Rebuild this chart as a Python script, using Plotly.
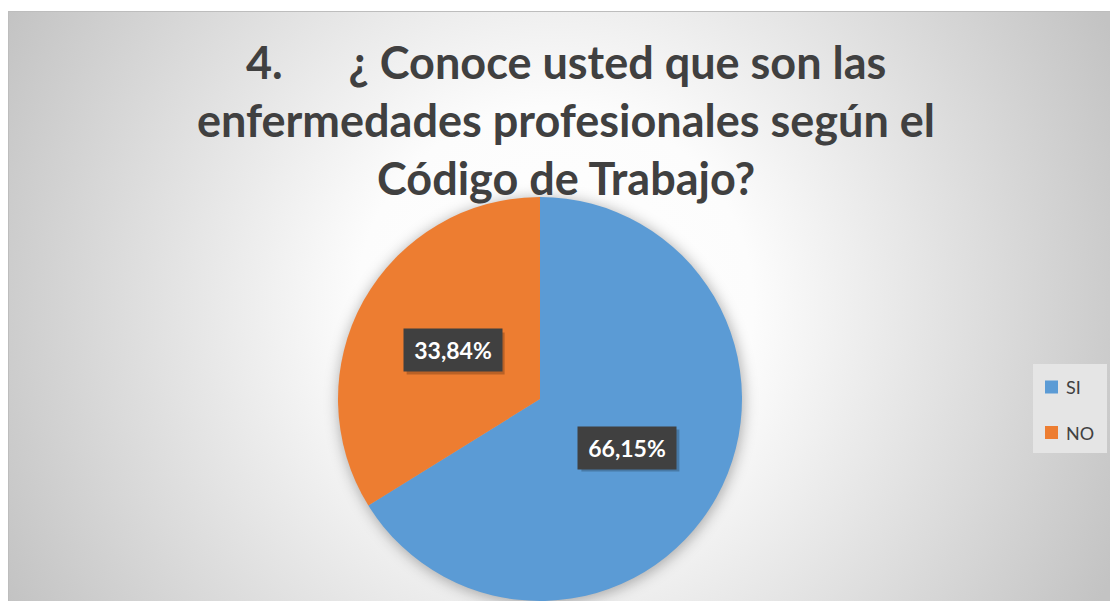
import base64
import math
import plotly.graph_objects as go

# ---------------- data ----------------
labels = ["SI", "NO"]
values = [66.15, 33.84]
colors = ["#5B9BD5", "#ED7D31"]
title_lines = [
    "4.\u00a0\u00a0\u00a0\u00a0\u00a0\u00a0¿ Conoce usted que son las",
    "enfermedades profesionales según el",
    "Código de Trabajo?",
]

# ---------------- geometry ----------------
W, H = 1110, 601
PIE_X0, PIE_X1 = 338, 742          # pixel extent of pie domain
PIE_H = 404                         # pixel height of pie domain (from bottom)
cx = (PIE_X0 + PIE_X1) / 2
R = (PIE_X1 - PIE_X0) / 2
cy = H - PIE_H / 2


def px(x):
    return x / W


def py(y):
    return 1 - y / H


# background: radial gradient + pie shadow, as svg image
svg = f"""<svg xmlns='http://www.w3.org/2000/svg' width='{W}' height='{H}' viewBox='0 0 {W} {H}'>
<defs>
<radialGradient id='g' gradientUnits='userSpaceOnUse' cx='555' cy='305' r='620'>
<stop offset='0' stop-color='#ffffff'/>
<stop offset='0.32' stop-color='#fcfcfc'/>
<stop offset='1' stop-color='#c3c3c3'/>
</radialGradient>
<filter id='b' x='-20%' y='-20%' width='140%' height='140%'><feGaussianBlur stdDeviation='7'/></filter>
</defs>
<rect x='0' y='0' width='{W}' height='{H}' fill='#ffffff'/>
<rect x='8.5' y='11.5' width='{W}' height='{H}' fill='url(#g)' stroke='#bdbdbd' stroke-width='1'/>
<circle cx='{cx + 1}' cy='{cy + 2}' r='{R + 1}' fill='#000000' fill-opacity='0.30' filter='url(#b)'/>
</svg>"""
src = "data:image/svg+xml;base64," + base64.b64encode(svg.encode("utf-8")).decode("ascii")

fig = go.Figure()
fig.add_trace(go.Pie(
    labels=labels,
    values=values,
    marker=dict(colors=colors, line=dict(width=0)),
    sort=False,
    direction="clockwise",
    rotation=0,
    textinfo="none",
    hoverinfo="label+percent",
    showlegend=False,
    domain=dict(x=[px(PIE_X0), px(PIE_X1)], y=[0, PIE_H / H]),
))

annotations = []
shapes = []
# title lines
title_y = [62, 120, 178]
for line, ty in zip(title_lines, title_y):
    annotations.append(dict(
        text=f"<b>{line}</b>", x=px(566), y=py(ty), xref="paper", yref="paper",
        xanchor="center", yanchor="middle", showarrow=False,
        font=dict(family="Lato", size=45, color="#404040"),
    ))

# data labels (dark boxes) at half radius along mid angle of each slice
BOX_W, BOX_H = 98, 42
total = sum(values)
cum = 0
for lab, v in zip(labels, values):
    mid = (cum + v / 2) / total * 2 * math.pi
    cum += v
    lx = cx + 0.495 * R * math.sin(mid)
    ly = cy - 0.495 * R * math.cos(mid)
    txt = f"{v:.2f}".replace(".", ",") + "%"
    # soft shadow of the box
    shapes.append(dict(type="rect", xref="paper", yref="paper",
                       x0=px(lx - BOX_W / 2 + 3), x1=px(lx + BOX_W / 2 + 3),
                       y0=py(ly + BOX_H / 2 + 3), y1=py(ly - BOX_H / 2 + 3),
                       fillcolor="rgba(0,0,0,0.22)", line=dict(width=0)))
    annotations.append(dict(
        text=f"<b>{txt}</b>", x=px(lx), y=py(ly), xref="paper", yref="paper",
        xanchor="center", yanchor="middle", showarrow=False,
        width=BOX_W - 4, height=BOX_H - 4, borderpad=2,
        bgcolor="#404040", font=dict(family="Lato", size=23, color="#ffffff"),
    ))

# legend (drawn from labels / colors)
shapes.append(dict(type="rect", xref="paper", yref="paper",
                   x0=px(1033), x1=px(1107), y0=py(453), y1=py(364),
                   fillcolor="#e5e5e5", line=dict(width=0), layer="below"))
for i, (lab, col) in enumerate(zip(labels, colors)):
    yc = 387 + i * 45.5
    shapes.append(dict(type="rect", xref="paper", yref="paper",
                       x0=px(1045), x1=px(1058), y0=py(yc + 6.5), y1=py(yc - 6.5),
                       fillcolor=col, line=dict(width=0)))
    annotations.append(dict(
        text=lab, x=px(1064), y=py(yc), xref="paper", yref="paper",
        xanchor="left", yanchor="middle", showarrow=False,
        font=dict(family="Lato", size=18, color="#404040"),
    ))

fig.update_layout(
    width=W, height=H,
    margin=dict(l=0, r=0, t=0, b=0),
    paper_bgcolor="#ffffff",
    plot_bgcolor="#ffffff",
    annotations=annotations,
    shapes=shapes,
    images=[dict(source=src, xref="paper", yref="paper", x=0, y=1,
                 sizex=1, sizey=1, xanchor="left", yanchor="top",
                 sizing="stretch", layer="below")],
)

fig.write_html("out.html",
               config={"displayModeBar": False},
               post_script="document.body.style.margin='0';document.body.style.overflow='hidden';")
